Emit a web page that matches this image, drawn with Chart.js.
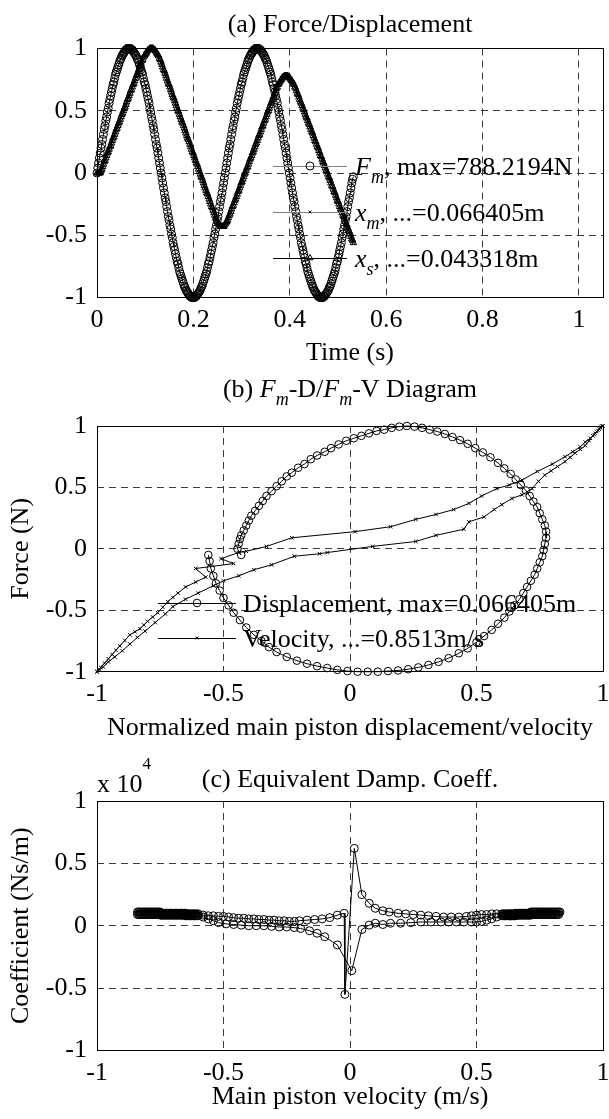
<!DOCTYPE html>
<html>
<head>
<meta charset="utf-8">
<script src="https://cdn.jsdelivr.net/npm/chart.js@4.4.0/dist/chart.umd.min.js"></script>
<style>
  html, body { margin: 0; padding: 0; background: #fff; }
  #wrap { position: relative; width: 609px; height: 1119px; }
  canvas { position: absolute; left: 0; }
</style>
</head>
<body>
<div id="wrap">
  <canvas id="chartA" width="609" height="372" style="top:0px"></canvas>
  <canvas id="chartB" width="609" height="372" style="top:372px"></canvas>
  <canvas id="chartC" width="609" height="375" style="top:744px"></canvas>
</div>
<script>
// ---- (a) normalised time histories ----
const timeS = [
  0, 0.0017, 0.0033, 0.0050, 0.0067, 0.0083, 0.0100, 0.0116, 0.0133, 0.0150, 0.0166, 0.0183, 0.0200, 0.0216, 0.0233, 0.0249, 0.0266, 0.0283, 0.0299, 0.0316,
  0.0333, 0.0349, 0.0366, 0.0382, 0.0399, 0.0416, 0.0432, 0.0449, 0.0466, 0.0482, 0.0499, 0.0515, 0.0532, 0.0549, 0.0565, 0.0582, 0.0599, 0.0615, 0.0632, 0.0648,
  0.0665, 0.0682, 0.0698, 0.0715, 0.0732, 0.0748, 0.0765, 0.0781, 0.0798, 0.0815, 0.0831, 0.0848, 0.0865, 0.0881, 0.0898, 0.0914, 0.0931, 0.0948, 0.0964, 0.0981,
  0.0998, 0.1014, 0.1031, 0.1047, 0.1064, 0.1081, 0.1097, 0.1114, 0.1131, 0.1147, 0.1164, 0.1180, 0.1197, 0.1214, 0.1230, 0.1247, 0.1264, 0.1280, 0.1297, 0.1313,
  0.1330, 0.1347, 0.1363, 0.1380, 0.1397, 0.1413, 0.1430, 0.1446, 0.1463, 0.1480, 0.1496, 0.1513, 0.1530, 0.1546, 0.1563, 0.1579, 0.1596, 0.1613, 0.1629, 0.1646,
  0.1663, 0.1679, 0.1696, 0.1712, 0.1729, 0.1746, 0.1762, 0.1779, 0.1796, 0.1812, 0.1829, 0.1845, 0.1862, 0.1879, 0.1895, 0.1912, 0.1929, 0.1945, 0.1962, 0.1978,
  0.1995, 0.2012, 0.2028, 0.2045, 0.2062, 0.2078, 0.2095, 0.2111, 0.2128, 0.2145, 0.2161, 0.2178, 0.2195, 0.2211, 0.2228, 0.2244, 0.2261, 0.2278, 0.2294, 0.2311,
  0.2328, 0.2344, 0.2361, 0.2377, 0.2394, 0.2411, 0.2427, 0.2444, 0.2461, 0.2477, 0.2494, 0.2510, 0.2527, 0.2544, 0.2560, 0.2577, 0.2594, 0.2610, 0.2627, 0.2643,
  0.2660, 0.2677, 0.2693, 0.2710, 0.2727, 0.2743, 0.2760, 0.2776, 0.2793, 0.2810, 0.2826, 0.2843, 0.2860, 0.2876, 0.2893, 0.2909, 0.2926, 0.2943, 0.2959, 0.2976,
  0.2993, 0.3009, 0.3026, 0.3042, 0.3059, 0.3076, 0.3092, 0.3109, 0.3126, 0.3142, 0.3159, 0.3175, 0.3192, 0.3209, 0.3225, 0.3242, 0.3259, 0.3275, 0.3292, 0.3308,
  0.3325, 0.3342, 0.3358, 0.3375, 0.3392, 0.3408, 0.3425, 0.3441, 0.3458, 0.3475, 0.3491, 0.3508, 0.3525, 0.3541, 0.3558, 0.3574, 0.3591, 0.3608, 0.3624, 0.3641,
  0.3658, 0.3674, 0.3691, 0.3707, 0.3724, 0.3741, 0.3757, 0.3774, 0.3791, 0.3807, 0.3824, 0.3840, 0.3857, 0.3874, 0.3890, 0.3907, 0.3924, 0.3940, 0.3957, 0.3973,
  0.3990, 0.4007, 0.4023, 0.4040, 0.4057, 0.4073, 0.4090, 0.4106, 0.4123, 0.4140, 0.4156, 0.4173, 0.4190, 0.4206, 0.4223, 0.4239, 0.4256, 0.4273, 0.4289, 0.4306,
  0.4323, 0.4339, 0.4356, 0.4372, 0.4389, 0.4406, 0.4422, 0.4439, 0.4456, 0.4472, 0.4489, 0.4505, 0.4522, 0.4539, 0.4555, 0.4572, 0.4589, 0.4605, 0.4622, 0.4638,
  0.4655, 0.4672, 0.4688, 0.4705, 0.4722, 0.4738, 0.4755, 0.4771, 0.4788, 0.4805, 0.4821, 0.4838, 0.4855, 0.4871, 0.4888, 0.4904, 0.4921, 0.4938, 0.4954, 0.4971,
  0.4988, 0.5004, 0.5021, 0.5037, 0.5054, 0.5071, 0.5087, 0.5104, 0.5121, 0.5137, 0.5154, 0.5170, 0.5187, 0.5204, 0.5220, 0.5237, 0.5254, 0.5270, 0.5287, 0.5303,
  0.5320
];
const forceNorm = [
  0.00, 0.04, 0.08, 0.12, 0.16, 0.20, 0.23, 0.27, 0.31, 0.35, 0.38, 0.42, 0.45, 0.49, 0.52, 0.56, 0.59, 0.62, 0.65, 0.68,
  0.71, 0.73, 0.76, 0.79, 0.81, 0.83, 0.85, 0.87, 0.89, 0.91, 0.92, 0.94, 0.95, 0.96, 0.97, 0.98, 0.99, 0.99, 1.00, 1.00, 1.00,
  1.00, 1.00, 0.99, 0.99, 0.98, 0.97, 0.96, 0.95, 0.94, 0.92, 0.91, 0.89, 0.87, 0.85, 0.83, 0.81, 0.79, 0.76, 0.73, 0.71,
  0.68, 0.65, 0.62, 0.59, 0.56, 0.52, 0.49, 0.45, 0.42, 0.38, 0.35, 0.31, 0.27, 0.23, 0.20, 0.16, 0.12, 0.08, 0.04, 0.00,
  -0.04, -0.08, -0.12, -0.16, -0.20, -0.23, -0.27, -0.31, -0.35, -0.38, -0.42, -0.45, -0.49, -0.52, -0.56, -0.59, -0.62, -0.65, -0.68, -0.71,
  -0.73, -0.76, -0.79, -0.81, -0.83, -0.85, -0.87, -0.89, -0.91, -0.92, -0.94, -0.95, -0.96, -0.97, -0.98, -0.99, -0.99, -1.00, -1.00, -1.00,
  -1.00, -1.00, -0.99, -0.99, -0.98, -0.97, -0.96, -0.95, -0.94, -0.92, -0.91, -0.89, -0.87, -0.85, -0.83, -0.81, -0.79, -0.76, -0.73, -0.71,
  -0.68, -0.65, -0.62, -0.59, -0.56, -0.52, -0.49, -0.45, -0.42, -0.38, -0.35, -0.31, -0.27, -0.23, -0.20, -0.16, -0.12, -0.08, -0.04, 0.00,
  0.04, 0.08, 0.12, 0.16, 0.20, 0.23, 0.27, 0.31, 0.35, 0.38, 0.42, 0.45, 0.49, 0.52, 0.56, 0.59, 0.62, 0.65, 0.68, 0.71,
  0.73, 0.76, 0.79, 0.81, 0.83, 0.85, 0.87, 0.89, 0.91, 0.92, 0.94, 0.95, 0.96, 0.97, 0.98, 0.99, 0.99, 1.00, 1.00, 1.00,
  1.00, 1.00, 0.99, 0.99, 0.98, 0.97, 0.96, 0.95, 0.94, 0.92, 0.91, 0.89, 0.87, 0.85, 0.83, 0.81, 0.79, 0.76, 0.73, 0.71,
  0.68, 0.65, 0.62, 0.59, 0.56, 0.52, 0.49, 0.45, 0.42, 0.38, 0.35, 0.31, 0.27, 0.23, 0.20, 0.16, 0.12, 0.08, 0.04, 0.00,
  -0.04, -0.08, -0.12, -0.16, -0.20, -0.23, -0.27, -0.31, -0.35, -0.38, -0.42, -0.45, -0.49, -0.52, -0.56, -0.59, -0.62, -0.65, -0.68, -0.71,
  -0.73, -0.76, -0.79, -0.81, -0.83, -0.85, -0.87, -0.89, -0.91, -0.92, -0.94, -0.95, -0.96, -0.97, -0.98, -0.99, -0.99, -1.00, -1.00, -1.00,
  -1.00, -1.00, -0.99, -0.99, -0.98, -0.97, -0.96, -0.95, -0.94, -0.92, -0.91, -0.89, -0.87, -0.85, -0.83, -0.81, -0.79, -0.76, -0.73, -0.71,
  -0.68, -0.65, -0.62, -0.59, -0.56, -0.52, -0.49, -0.45, -0.42, -0.38, -0.35, -0.31, -0.27, -0.23, -0.20, -0.16, -0.12, -0.08, -0.05, -0.03
];
const xmNorm = [
  0, 0, 0, 0, 0, 0.02, 0.03, 0.05, 0.07, 0.09, 0.10, 0.12, 0.14, 0.16, 0.17, 0.19, 0.21, 0.22, 0.24, 0.26,
  0.28, 0.29, 0.31, 0.33, 0.35, 0.36, 0.38, 0.40, 0.41, 0.43, 0.45, 0.47, 0.48, 0.50, 0.52, 0.53, 0.55, 0.57, 0.59, 0.60,
  0.62, 0.64, 0.66, 0.67, 0.69, 0.71, 0.72, 0.74, 0.76, 0.78, 0.79, 0.81, 0.83, 0.85, 0.86, 0.88, 0.90, 0.91, 0.93, 0.94,
  0.95, 0.96, 0.97, 0.98, 0.99, 0.99, 1.00, 1.00, 1.00, 1.00, 1.00, 0.99, 0.99, 0.98, 0.97, 0.96, 0.95, 0.94, 0.92, 0.91,
  0.89, 0.87, 0.85, 0.83, 0.82, 0.80, 0.78, 0.76, 0.74, 0.72, 0.71, 0.69, 0.67, 0.65, 0.63, 0.61, 0.60, 0.58, 0.56, 0.54,
  0.52, 0.50, 0.49, 0.47, 0.45, 0.43, 0.41, 0.40, 0.38, 0.36, 0.34, 0.32, 0.30, 0.28, 0.27, 0.25, 0.23, 0.21, 0.19, 0.17,
  0.16, 0.14, 0.12, 0.10, 0.08, 0.07, 0.05, 0.03, 0.01, -0.01, -0.03, -0.04, -0.06, -0.08, -0.10, -0.12, -0.14, -0.16, -0.17, -0.19,
  -0.21, -0.23, -0.25, -0.27, -0.28, -0.30, -0.32, -0.34, -0.36, -0.37, -0.39, -0.40, -0.41, -0.42, -0.43, -0.43, -0.43, -0.43, -0.43, -0.42,
  -0.41, -0.40, -0.39, -0.38, -0.36, -0.34, -0.33, -0.31, -0.29, -0.27, -0.26, -0.24, -0.22, -0.21, -0.19, -0.17, -0.15, -0.14, -0.12, -0.10,
  -0.08, -0.07, -0.05, -0.03, -0.01, 0.00, 0.02, 0.04, 0.05, 0.07, 0.09, 0.11, 0.12, 0.14, 0.16, 0.17, 0.19, 0.21, 0.23, 0.24,
  0.26, 0.28, 0.30, 0.31, 0.33, 0.35, 0.37, 0.38, 0.40, 0.42, 0.43, 0.45, 0.47, 0.49, 0.50, 0.52, 0.54, 0.56, 0.57, 0.59,
  0.61, 0.62, 0.64, 0.66, 0.68, 0.69, 0.71, 0.72, 0.73, 0.74, 0.75, 0.76, 0.77, 0.77, 0.78, 0.78, 0.78, 0.78, 0.78, 0.77,
  0.77, 0.76, 0.75, 0.74, 0.73, 0.72, 0.71, 0.69, 0.68, 0.66, 0.64, 0.63, 0.61, 0.59, 0.57, 0.56, 0.54, 0.52, 0.51, 0.49,
  0.47, 0.45, 0.44, 0.42, 0.40, 0.39, 0.37, 0.35, 0.33, 0.32, 0.30, 0.28, 0.26, 0.25, 0.23, 0.21, 0.20, 0.18, 0.16, 0.14,
  0.13, 0.11, 0.09, 0.08, 0.06, 0.04, 0.02, 0.01, -0.01, -0.03, -0.04, -0.06, -0.08, -0.10, -0.11, -0.13, -0.15, -0.16, -0.18, -0.20,
  -0.22, -0.23, -0.25, -0.27, -0.29, -0.30, -0.32, -0.34, -0.35, -0.37, -0.39, -0.41, -0.42, -0.44, -0.46, -0.47, -0.49, -0.51, -0.53, -0.54,
  -0.56
];
const xsNorm = [
  0, 0, 0, 0, 0, 0.02, 0.03, 0.05, 0.07, 0.09, 0.10, 0.12, 0.14, 0.16, 0.17, 0.19, 0.21, 0.22, 0.24, 0.26,
  0.28, 0.29, 0.31, 0.33, 0.35, 0.36, 0.38, 0.40, 0.41, 0.43, 0.45, 0.47, 0.48, 0.50, 0.52, 0.53, 0.55, 0.57, 0.59, 0.60,
  0.62, 0.64, 0.66, 0.67, 0.69, 0.71, 0.72, 0.74, 0.76, 0.78, 0.79, 0.81, 0.83, 0.85, 0.86, 0.88, 0.90, 0.91, 0.93, 0.94,
  0.95, 0.96, 0.97, 0.98, 0.99, 0.99, 1.00, 1.00, 1.00, 1.00, 1.00, 0.99, 0.99, 0.98, 0.97, 0.96, 0.95, 0.94, 0.92, 0.91,
  0.89, 0.87, 0.85, 0.83, 0.82, 0.80, 0.78, 0.76, 0.74, 0.72, 0.71, 0.69, 0.67, 0.65, 0.63, 0.61, 0.60, 0.58, 0.56, 0.54,
  0.52, 0.50, 0.49, 0.47, 0.45, 0.43, 0.41, 0.40, 0.38, 0.36, 0.34, 0.32, 0.30, 0.28, 0.27, 0.25, 0.23, 0.21, 0.19, 0.17,
  0.16, 0.14, 0.12, 0.10, 0.08, 0.07, 0.05, 0.03, 0.01, -0.01, -0.03, -0.04, -0.06, -0.08, -0.10, -0.12, -0.14, -0.16, -0.17, -0.19,
  -0.21, -0.23, -0.25, -0.27, -0.28, -0.30, -0.32, -0.34, -0.36, -0.37, -0.39, -0.40, -0.41, -0.42, -0.43, -0.43, -0.43, -0.43, -0.43, -0.42,
  -0.41, -0.40, -0.39, -0.38, -0.36, -0.34, -0.33, -0.31, -0.29, -0.27, -0.26, -0.24, -0.22, -0.21, -0.19, -0.17, -0.15, -0.14, -0.12, -0.10,
  -0.08, -0.07, -0.05, -0.03, -0.01, 0.00, 0.02, 0.04, 0.05, 0.07, 0.09, 0.11, 0.12, 0.14, 0.16, 0.17, 0.19, 0.21, 0.23, 0.24,
  0.26, 0.28, 0.30, 0.31, 0.33, 0.35, 0.37, 0.38, 0.40, 0.42, 0.43, 0.45, 0.47, 0.49, 0.50, 0.52, 0.54, 0.56, 0.57, 0.59,
  0.61, 0.62, 0.64, 0.66, 0.68, 0.69, 0.71, 0.72, 0.73, 0.74, 0.75, 0.76, 0.77, 0.77, 0.78, 0.78, 0.78, 0.78, 0.78, 0.77,
  0.77, 0.76, 0.75, 0.74, 0.73, 0.72, 0.71, 0.69, 0.68, 0.66, 0.64, 0.63, 0.61, 0.59, 0.57, 0.56, 0.54, 0.52, 0.51, 0.49,
  0.47, 0.45, 0.44, 0.42, 0.40, 0.39, 0.37, 0.35, 0.33, 0.32, 0.30, 0.28, 0.26, 0.25, 0.23, 0.21, 0.20, 0.18, 0.16, 0.14,
  0.13, 0.11, 0.09, 0.08, 0.06, 0.04, 0.02, 0.01, -0.01, -0.03, -0.04, -0.06, -0.08, -0.10, -0.11, -0.13, -0.15, -0.16, -0.18, -0.20,
  -0.22, -0.23, -0.25, -0.27, -0.29, -0.30, -0.32, -0.34, -0.35, -0.37, -0.39, -0.41, -0.42, -0.44, -0.46, -0.47, -0.49, -0.51, -0.53, -0.54,
  -0.56
];

// ---- (b) force vs normalised displacement / velocity ----
const dispX = [
  -0.43, -0.445, -0.44, -0.435, -0.43, -0.42, -0.41, -0.40, -0.39, -0.375, -0.36, -0.345, -0.33, -0.31, -0.29, -0.27, -0.25, -0.23, -0.205, -0.18,
  -0.155, -0.13, -0.10, -0.075, -0.045, -0.015, 0.015, 0.045, 0.075, 0.105, 0.135, 0.165, 0.195, 0.225, 0.255, 0.285, 0.315, 0.345, 0.375, 0.405,
  0.435, 0.465, 0.495, 0.525, 0.555, 0.585, 0.61, 0.635, 0.655, 0.675, 0.695, 0.71, 0.725, 0.74, 0.75, 0.76, 0.77, 0.775, 0.775, 0.77,
  0.765, 0.76, 0.75, 0.74, 0.73, 0.715, 0.70, 0.685, 0.67, 0.65, 0.63, 0.61, 0.585, 0.56, 0.53, 0.50, 0.465, 0.43, 0.39, 0.35,
  0.31, 0.27, 0.23, 0.19, 0.15, 0.11, 0.07, 0.03, -0.01, -0.05, -0.09, -0.13, -0.17, -0.21, -0.25, -0.29, -0.32, -0.35, -0.38, -0.41,
  -0.435, -0.46, -0.48, -0.50, -0.515, -0.53, -0.54, -0.55, -0.555, -0.56
];
const dispF = [
  -0.05, 0.00, 0.04, 0.08, 0.11, 0.15, 0.19, 0.23, 0.27, 0.31, 0.35, 0.39, 0.43, 0.47, 0.51, 0.55, 0.59, 0.62, 0.66, 0.69,
  0.73, 0.76, 0.79, 0.82, 0.85, 0.88, 0.90, 0.92, 0.94, 0.96, 0.97, 0.985, 0.995, 1.00, 0.995, 0.985, 0.97, 0.955, 0.935, 0.91,
  0.885, 0.855, 0.82, 0.785, 0.745, 0.70, 0.655, 0.61, 0.565, 0.52, 0.475, 0.43, 0.385, 0.34, 0.29, 0.24, 0.19, 0.14, 0.09, 0.04,
  -0.01, -0.06, -0.11, -0.16, -0.21, -0.26, -0.31, -0.36, -0.41, -0.46, -0.51, -0.56, -0.61, -0.66, -0.71, -0.76, -0.81, -0.85, -0.89, -0.92,
  -0.945, -0.965, -0.98, -0.99, -0.995, -1.00, -1.00, -1.00, -0.995, -0.985, -0.97, -0.955, -0.935, -0.91, -0.88, -0.84, -0.80, -0.75, -0.70, -0.64,
  -0.58, -0.52, -0.46, -0.40, -0.34, -0.28, -0.22, -0.16, -0.10, -0.05
];
const velX = [
  -1.00, -0.985, -0.97, -0.955, -0.94, -0.925, -0.91, -0.89, -0.87, -0.85, -0.83, -0.815, -0.80, -0.78, -0.76, -0.74, -0.72, -0.70, -0.68, -0.65,
  -0.61, -0.57, -0.61, -0.46, -0.51,
  -0.44, -0.41, -0.33, -0.23, 0.02, 0.16, 0.26, 0.34, 0.41, 0.47, 0.52, 0.58, 0.63, 0.68, 0.74, 0.80, 0.85, 0.88, 0.91, 0.93,
  0.95, 0.965, 0.975, 0.985, 0.99, 0.995, 1.00,
  0.99, 0.98, 0.97, 0.96, 0.945, 0.93, 0.91, 0.89, 0.87, 0.85, 0.82, 0.795, 0.77, 0.745, 0.72, 0.68, 0.64, 0.60, 0.57, 0.53,
  0.47, 0.45, 0.34, 0.26, 0.09, -0.09, -0.12, -0.22, -0.31, -0.38, -0.44, -0.50, -0.54, -0.60, -0.65, -0.70, -0.73, -0.77, -0.81, -0.84,
  -0.87, -0.90, -0.93, -0.955, -0.975, -0.99, -1.00
];
const velF = [
  -1.00, -0.965, -0.93, -0.895, -0.86, -0.825, -0.79, -0.745, -0.70, -0.675, -0.65, -0.62, -0.59, -0.555, -0.52, -0.475, -0.43, -0.395, -0.36, -0.31,
  -0.27, -0.23, -0.16, -0.12, -0.08,
  -0.03, -0.02, 0.02, 0.09, 0.14, 0.18, 0.24, 0.28, 0.32, 0.37, 0.43, 0.49, 0.52, 0.56, 0.63, 0.69, 0.75, 0.79, 0.83, 0.87,
  0.90, 0.93, 0.955, 0.975, 0.99, 1.00, 1.00,
  0.985, 0.965, 0.94, 0.92, 0.88, 0.84, 0.81, 0.78, 0.745, 0.71, 0.67, 0.635, 0.60, 0.55, 0.49, 0.44, 0.41, 0.36, 0.32, 0.26,
  0.22, 0.16, 0.11, 0.06, 0.02, -0.03, -0.04, -0.06, -0.13, -0.17, -0.22, -0.26, -0.30, -0.36, -0.41, -0.47, -0.53, -0.60, -0.67, -0.72,
  -0.775, -0.83, -0.88, -0.92, -0.96, -0.985, -1.00
];

// ---- (c) equivalent damping coefficient (x 10^4 Ns/m) vs velocity ----
const dampV = [
  -0.84, -0.835, -0.83, -0.825, -0.82, -0.815, -0.81, -0.805, -0.80, -0.795, -0.79, -0.785, -0.78, -0.775, -0.77, -0.765, -0.76, -0.755, -0.75,
  -0.745, -0.74, -0.735, -0.73, -0.725, -0.72, -0.715, -0.71, -0.705, -0.70, -0.695, -0.69, -0.685, -0.68, -0.675, -0.67, -0.665, -0.66, -0.655, -0.65,
  -0.645, -0.64, -0.635, -0.63, -0.625, -0.62, -0.615, -0.61, -0.605, -0.60,
  -0.58, -0.56, -0.54, -0.52, -0.50, -0.48, -0.46, -0.44, -0.42, -0.40, -0.38, -0.36, -0.34, -0.32, -0.30, -0.28, -0.26, -0.24, -0.22, -0.20,
  -0.17, -0.14, -0.11, -0.08, -0.05, -0.023,
  -0.02, 0.017, 0.047,
  0.076, 0.10, 0.13, 0.155, 0.19, 0.22, 0.25, 0.28, 0.31, 0.34, 0.37, 0.40, 0.43, 0.46, 0.48, 0.50, 0.52, 0.54, 0.56, 0.58,
  0.60, 0.605, 0.61, 0.615, 0.62, 0.625, 0.63, 0.635, 0.64, 0.645, 0.65,
  0.655, 0.66, 0.665, 0.67, 0.675, 0.68, 0.685, 0.69, 0.695, 0.70, 0.705, 0.71,
  0.715, 0.72, 0.725, 0.73, 0.735, 0.74, 0.745, 0.75, 0.755, 0.76, 0.765, 0.77, 0.775, 0.78, 0.785, 0.79, 0.795, 0.80, 0.805, 0.81, 0.815, 0.82, 0.825, 0.83,
  0.825, 0.82, 0.815, 0.81, 0.805, 0.80, 0.795, 0.79, 0.785, 0.78, 0.775, 0.77, 0.765, 0.76, 0.755, 0.75, 0.745, 0.74, 0.735, 0.73, 0.725, 0.72,
  0.715, 0.71, 0.705, 0.70, 0.695, 0.69, 0.685, 0.68, 0.675, 0.67, 0.665, 0.66,
  0.655, 0.65, 0.645, 0.64, 0.635, 0.63, 0.625, 0.62, 0.615, 0.61, 0.605, 0.60,
  0.58, 0.56, 0.54, 0.52, 0.50, 0.48, 0.45, 0.42, 0.39, 0.36, 0.32, 0.28, 0.24, 0.20, 0.16, 0.13, 0.10, 0.076, 0.047,
  0.007, -0.05,
  -0.10, -0.13, -0.16, -0.195, -0.22, -0.25, -0.28, -0.31, -0.34, -0.37, -0.40, -0.43, -0.46, -0.49, -0.52, -0.54, -0.56, -0.58, -0.60,
  -0.605, -0.61, -0.615, -0.62, -0.625, -0.63, -0.635, -0.64, -0.645, -0.65,
  -0.655, -0.66, -0.665, -0.67, -0.675, -0.68, -0.685, -0.69, -0.695, -0.70, -0.705, -0.71, -0.715, -0.72, -0.725, -0.73, -0.735, -0.74, -0.745, -0.75,
  -0.755, -0.76, -0.765, -0.77, -0.775, -0.78, -0.785, -0.79, -0.795, -0.80, -0.805, -0.81, -0.815, -0.82, -0.825, -0.83, -0.835, -0.84
];
const dampC = [
  0.11, 0.11, 0.11, 0.11, 0.11, 0.11, 0.11, 0.11, 0.11, 0.11, 0.11, 0.11, 0.11, 0.11, 0.11, 0.11, 0.11, 0.11, 0.11,
  0.10, 0.10, 0.10, 0.10, 0.10, 0.10, 0.10, 0.10, 0.10, 0.10, 0.10, 0.10, 0.10, 0.10, 0.10, 0.10, 0.10, 0.10, 0.10, 0.10,
  0.095, 0.095, 0.095, 0.095, 0.095, 0.095, 0.095, 0.095, 0.095, 0.095,
  0.085, 0.08, 0.08, 0.075, 0.075, 0.07, 0.065, 0.06, 0.06, 0.055, 0.055, 0.05, 0.05, 0.045, 0.045, 0.04, 0.04, 0.035, 0.035, 0.04,
  0.045, 0.05, 0.055, 0.065, 0.085, 0.10,
  -0.55, 0.62, 0.25,
  0.18, 0.14, 0.12, 0.11, 0.10, 0.095, 0.09, 0.085, 0.08, 0.075, 0.07, 0.07, 0.07, 0.075, 0.08, 0.085, 0.09, 0.09, 0.095, 0.095,
  0.095, 0.095, 0.095, 0.095, 0.095, 0.095, 0.095, 0.095, 0.095, 0.095, 0.095,
  0.10, 0.10, 0.10, 0.10, 0.10, 0.10, 0.10, 0.10, 0.10, 0.10, 0.10, 0.10,
  0.11, 0.11, 0.11, 0.11, 0.11, 0.11, 0.11, 0.11, 0.11, 0.11, 0.11, 0.11, 0.11, 0.11, 0.11, 0.11, 0.11, 0.11, 0.11, 0.11, 0.11, 0.11, 0.11, 0.11,
  0.09, 0.09, 0.09, 0.09, 0.09, 0.09, 0.09, 0.09, 0.09, 0.09, 0.09, 0.09, 0.09, 0.09, 0.09, 0.09, 0.09, 0.09, 0.09, 0.09, 0.09, 0.09,
  0.085, 0.085, 0.085, 0.085, 0.085, 0.085, 0.085, 0.085, 0.085, 0.085, 0.085, 0.085,
  0.08, 0.08, 0.08, 0.08, 0.08, 0.08, 0.08, 0.08, 0.08, 0.08, 0.08, 0.08,
  0.07, 0.055, 0.045, 0.035, 0.03, 0.03, 0.03, 0.03, 0.03, 0.03, 0.03, 0.03, 0.025, 0.02, 0.02, 0.01, 0.02, 0.005, -0.03,
  -0.36, -0.154,
  -0.088, -0.06, -0.04, -0.022, -0.015, -0.01, -0.01, -0.005, 0.0, 0.0, 0.0, 0.005, 0.01, 0.015, 0.025, 0.04, 0.055, 0.07, 0.08,
  0.08, 0.08, 0.08, 0.08, 0.08, 0.08, 0.08, 0.08, 0.08, 0.08,
  0.085, 0.085, 0.085, 0.085, 0.085, 0.085, 0.085, 0.085, 0.085, 0.085, 0.085, 0.085, 0.085, 0.085, 0.085, 0.085, 0.085, 0.085, 0.085, 0.085,
  0.09, 0.09, 0.09, 0.09, 0.09, 0.09, 0.09, 0.09, 0.09, 0.09, 0.09, 0.09, 0.09, 0.09, 0.09, 0.09, 0.09, 0.09
];

// tick values
const timeTicks = [0, 0.2, 0.4, 0.6, 0.8, 1];
const unitTicks = [-1, -0.5, 0, 0.5, 1];

const SERIF = "'Liberation Serif', 'Times New Roman', serif";
Chart.defaults.font.family = SERIF;
Chart.defaults.font.size = 26;
Chart.defaults.color = '#000';

const fmt = v => String(+Number(v).toFixed(2));
const pts = (xs, ys) => xs.map((x, i) => ({ x: x, y: ys[i] }));

// text with italic / sub / superscript pieces
function drawRuns(ctx, runs, x, y, align) {
  let w = 0;
  const parts = runs.map(r => {
    const size = (r.sub || r.sup) ? (r.size || 18) : 26;
    const font = (r.it ? 'italic ' : '') + size + 'px ' + SERIF;
    ctx.font = font;
    const pw = ctx.measureText(r.t).width;
    w += pw;
    return { t: r.t, font: font, pw: pw, dy: r.sub ? 8 : (r.sup ? -23 : 0) };
  });
  let cx = align === 'center' ? x - w / 2 : x;
  ctx.textAlign = 'left';
  ctx.textBaseline = 'alphabetic';
  ctx.fillStyle = '#000';
  parts.forEach(p => {
    ctx.font = p.font;
    ctx.fillText(p.t, cx, y + 9 + p.dy);
    cx += p.pw;
  });
}

const align = v => Math.round(v - 0.5) + 0.5;

const overlay = {
  id: 'overlay',
  afterDraw(chart, args, opts) {
    const ctx = chart.ctx;
    const a = chart.chartArea;
    ctx.save();
    ctx.strokeStyle = '#000';
    ctx.lineWidth = 1;
    ctx.setLineDash([]);
    const l = align(a.left), r = align(a.right), t = align(a.top), b = align(a.bottom);
    ctx.strokeRect(l, t, r - l, b - t);
    (opts.texts || []).forEach(tx => drawRuns(ctx, tx.runs, tx.x, tx.y, tx.align));
    (opts.legend || []).forEach(e => {
      ctx.strokeStyle = e.color;
      ctx.lineWidth = 1;
      ctx.beginPath();
      ctx.moveTo(e.x1, align(e.y));
      ctx.lineTo(e.x2, align(e.y));
      ctx.stroke();
      ctx.strokeStyle = '#000';
      ctx.fillStyle = 'rgba(0,0,0,0)';
      Chart.helpers.drawPoint(ctx, { pointStyle: e.style, radius: e.r, borderWidth: 1, rotation: 0 }, e.xm, e.y);
      drawRuns(ctx, e.runs, e.xt, e.y, 'left');
    });
    ctx.restore();
  }
};

function scale(min, max, tickVals, pad, fit, title) {
  return {
    type: 'linear',
    min: min,
    max: max,
    afterBuildTicks: s => { s.ticks = tickVals.map(v => ({ value: v })); },
    afterFit: fit,
    ticks: { autoSkip: false, maxRotation: 0, padding: pad, callback: fmt, color: '#000', font: { size: 26 } },
    grid: { color: '#3c3c3c', lineWidth: 1, drawTicks: false },
    border: { display: false, dash: [7, 5] },
    title: title || { display: false }
  };
}
const xFit = h => s => { s.height = h; s.paddingLeft = 0; s.paddingRight = 0; };
const yFit = s => { s.width = 97; s.paddingTop = 0; s.paddingBottom = 0; };
const axisTitle = (text, pad) => ({ display: true, text: text, color: '#000', font: { size: 26 }, padding: pad });

function lineSet(label, data, style, radius, order) {
  return {
    label: label,
    data: data,
    borderColor: '#000',
    borderWidth: 1,
    pointStyle: style,
    pointRadius: radius,
    pointBorderWidth: 1,
    pointBorderColor: '#000',
    pointBackgroundColor: 'rgba(0,0,0,0)',
    tension: 0,
    fill: false,
    clip: false,
    order: order
  };
}

const common = {
  responsive: false,
  animation: false,
  events: [],
  plugins: { legend: { display: false }, tooltip: { enabled: false } }
};

// (a)
new Chart(document.getElementById('chartA'), {
  type: 'line',
  data: {
    datasets: [
      lineSet('Fm', pts(timeS, forceNorm), 'circle', 4, 2),
      lineSet('xm', pts(timeS, xmNorm), 'crossRot', 2.5, 1),
      lineSet('xs', pts(timeS, xsNorm), 'triangle', 3.8, 0)
    ]
  },
  options: Object.assign({}, common, {
    layout: { padding: { top: 48.5, right: 6, left: 0, bottom: 0 } },
    scales: {
      x: scale(0, 1.05, timeTicks, 7, xFit(74.5), axisTitle('Time (s)', { top: 0, bottom: 3.4 })),
      y: scale(-1, 1, unitTicks, 10, yFit)
    },
    plugins: Object.assign({}, common.plugins, {
      overlay: {
        texts: [{ x: 350, y: 23, align: 'center', runs: [{ t: '(a) Force/Displacement' }] }],
        legend: [
          { y: 166, x1: 273, x2: 347, xm: 310, xt: 355, style: 'circle', r: 4, color: '#808080',
            runs: [{ t: 'F', it: 1 }, { t: 'm', it: 1, sub: 1 }, { t: ', max=788.2194N' }] },
          { y: 212, x1: 273, x2: 347, xm: 310, xt: 355, style: 'crossRot', r: 2, color: '#808080',
            runs: [{ t: 'x', it: 1 }, { t: 'm', it: 1, sub: 1 }, { t: ', ...=0.066405m' }] },
          { y: 258, x1: 273, x2: 347, xm: 310, xt: 355, style: 'triangle', r: 3.5, color: '#000',
            runs: [{ t: 'x', it: 1 }, { t: 's', it: 1, sub: 1 }, { t: ', ...=0.043318m' }] }
        ]
      }
    })
  }),
  plugins: [overlay]
});

// (b)
new Chart(document.getElementById('chartB'), {
  type: 'line',
  data: {
    datasets: [
      lineSet('Displacement', pts(dispX, dispF), 'circle', 3.8, 1),
      lineSet('Velocity', pts(velX, velF), 'crossRot', 2.5, 0)
    ]
  },
  options: Object.assign({}, common, {
    layout: { padding: { top: 54, right: 6, left: 0, bottom: 0 } },
    scales: {
      x: scale(-1, 1, unitTicks, 7, xFit(72.3), axisTitle('Normalized main piston displacement/velocity', { top: 0, bottom: 0.4 })),
      y: scale(-1, 1, unitTicks, 10, yFit, axisTitle('Force (N)', { top: 5.4, bottom: 0 }))
    },
    plugins: Object.assign({}, common.plugins, {
      overlay: {
        texts: [{ x: 350, y: 16, align: 'center', runs: [
          { t: '(b) ' }, { t: 'F', it: 1 }, { t: 'm', it: 1, sub: 1 }, { t: '-D/' },
          { t: 'F', it: 1 }, { t: 'm', it: 1, sub: 1 }, { t: '-V Diagram' }] }],
        legend: [
          { y: 231, x1: 158, x2: 236, xm: 197, xt: 243, style: 'circle', r: 3.8, color: '#000',
            runs: [{ t: 'Displacement, max=0.066405m' }] },
          { y: 266, x1: 158, x2: 236, xm: 197, xt: 243, style: 'crossRot', r: 2, color: '#000',
            runs: [{ t: 'Velocity, ...=0.8513m/s' }] }
        ]
      }
    })
  }),
  plugins: [overlay]
});

// (c)
new Chart(document.getElementById('chartC'), {
  type: 'line',
  data: {
    datasets: [lineSet('Coefficient', pts(dampV, dampC), 'circle', 4, 0)]
  },
  options: Object.assign({}, common, {
    layout: { padding: { top: 57, right: 6, left: 0, bottom: 0 } },
    scales: {
      x: scale(-1, 1, unitTicks, 7, xFit(68.5), axisTitle('Main piston velocity (m/s)', { top: 0, bottom: 6.4 })),
      y: scale(-1, 1, unitTicks, 10, yFit, axisTitle('Coefficient (Ns/m)', { top: 5.4, bottom: 0 }))
    },
    plugins: Object.assign({}, common.plugins, {
      overlay: {
        texts: [
          { x: 350, y: 34, align: 'center', runs: [{ t: '(c) Equivalent Damp. Coeff.' }] },
          { x: 97, y: 39, align: 'left', runs: [{ t: 'x 10' }, { t: '4', sup: 1, size: 17 }] }
        ]
      }
    })
  }),
  plugins: [overlay]
});
</script>
</body>
</html>
